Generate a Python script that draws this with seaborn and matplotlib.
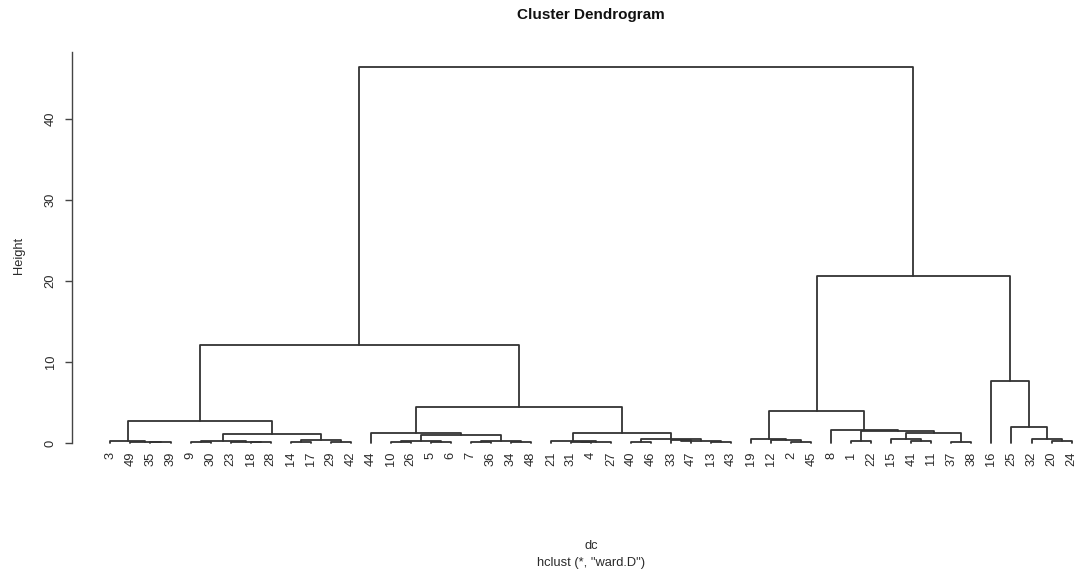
import numpy as np
import pandas as pd
import matplotlib
matplotlib.use("Agg")
import matplotlib.pyplot as plt
import seaborn as sns

# ---- data: R-style hclust merge table (negative = observation, positive = merge row) ----
merge_left = [-35, -49, -3, -9, -18, -23, 4, -14, -29, 8, 7, 3,
              -10, -5, 13, -7, -34, 16, 15, -44, -31, 21, -21, -40, -33, -13, 25, 24, 23, 20,
              -2, -12, -19, -1, -41, -15, -37, 36, 34, -8, 33,
              -20, -32, -25, -16,
              12, 41, 46]
merge_right = [-39, 1, 2, -30, -28, 5, 6, -17, -42, 9, 10, 11,
               -26, -6, 14, -36, -48, 17, 18, 19, -4, -27, 22, -46, -47, -43, 26, 27, 28, 29,
               -45, 31, 32, -22, -11, 35, -38, 37, 38, 39, 40,
               -24, 42, 43, 44,
               30, 45, 47]
merge_height = [0.08, 0.12, 0.20, 0.10, 0.12, 0.18, 0.25, 0.12, 0.15, 0.35, 1.05, 2.75,
                0.10, 0.15, 0.30, 0.12, 0.10, 0.30, 0.95, 1.25, 0.10, 0.15, 0.20, 0.15, 0.40, 0.10, 0.30, 0.50, 1.20, 4.40,
                0.12, 0.35, 0.55, 0.30, 0.30, 0.55, 0.15, 1.20, 1.45, 1.60, 4.00,
                0.30, 0.55, 2.00, 7.60,
                12.10, 20.60, 46.40]
y_ticks = [0, 10, 20, 30, 40]

# ---- compute leaf order and node positions ----
n_merge = len(merge_height)
order = []
def collect(node):
    if node < 0:
        order.append(-node)
    else:
        collect(merge_left[node - 1])
        collect(merge_right[node - 1])
collect(n_merge)
leaf_pos = {obs: i + 1 for i, obs in enumerate(order)}
node_x = {}
def xy(node):
    if node < 0:
        return leaf_pos[-node], 0.0
    return node_x[node], merge_height[node - 1]
for j in range(1, n_merge + 1):
    xl, _ = xy(merge_left[j - 1])
    xr, _ = xy(merge_right[j - 1])
    node_x[j] = (xl + xr) / 2

rows = []
for j in range(1, n_merge + 1):
    xl, hl = xy(merge_left[j - 1])
    xr, hr = xy(merge_right[j - 1])
    h = merge_height[j - 1]
    for k, (px, py) in enumerate([(xl, hl), (xl, h), (xr, h), (xr, hr)]):
        rows.append({"seg": j, "k": k, "x": px, "y": py})
seg_df = pd.DataFrame(rows)

# ---- plot ----
sns.set_theme(style="white")
plt.rcParams["font.family"] = ["Liberation Sans", "DejaVu Sans"]
W, H = 1077, 571
fig = plt.figure(figsize=(W / 100, H / 100), dpi=100)
ax = fig.add_axes([72 / W, (H - 458) / H, 1038 / W, 406 / H])

n = len(order)
hmax = max(merge_height)
sns.lineplot(data=seg_df, x="x", y="y", units="seg", estimator=None, sort=False,
             color="#333333", linewidth=1.3, ax=ax, legend=False)

ax.set_xlim(1 - 0.04 * (n - 1), n + 0.04 * (n - 1))
ax.set_ylim(-0.04 * hmax, hmax * 1.04)

for obs, pos in leaf_pos.items():
    ax.text(pos, -1.1, str(obs), rotation=90, ha="center", va="top",
            fontsize=9.3, color="#2a2a2a")

ax.set_xticks([])
ax.set_yticks(y_ticks)
ax.set_yticklabels([str(t) for t in y_ticks], rotation=90, va="center",
                   fontsize=9.3, color="#2a2a2a")
ax.tick_params(axis="y", left=True, length=5, width=1.0, pad=6, color="#444444")
ax.set_xlabel("")
ax.set_ylabel("Height", fontsize=9.3, color="#2a2a2a", labelpad=14)

for s in ["top", "right", "bottom"]:
    ax.spines[s].set_visible(False)
ax.spines["left"].set_color("#444444")
ax.spines["left"].set_linewidth(1.0)
ax.spines["left"].set_bounds(0, hmax * 1.04)

cx = (72 + 1110) / 2 / W
fig.text(cx, 1 - 15 / H, "Cluster Dendrogram", ha="center", va="center",
         fontsize=11, fontweight="bold", color="#111111")
fig.text(cx, 1 - 546 / H, "dc", ha="center", va="center", fontsize=9.3, color="#2a2a2a")
fig.text(cx, 1 - 563 / H, 'hclust (*, "ward.D")', ha="center", va="center",
         fontsize=9.3, color="#2a2a2a")

fig.savefig("out.png", dpi=100)
